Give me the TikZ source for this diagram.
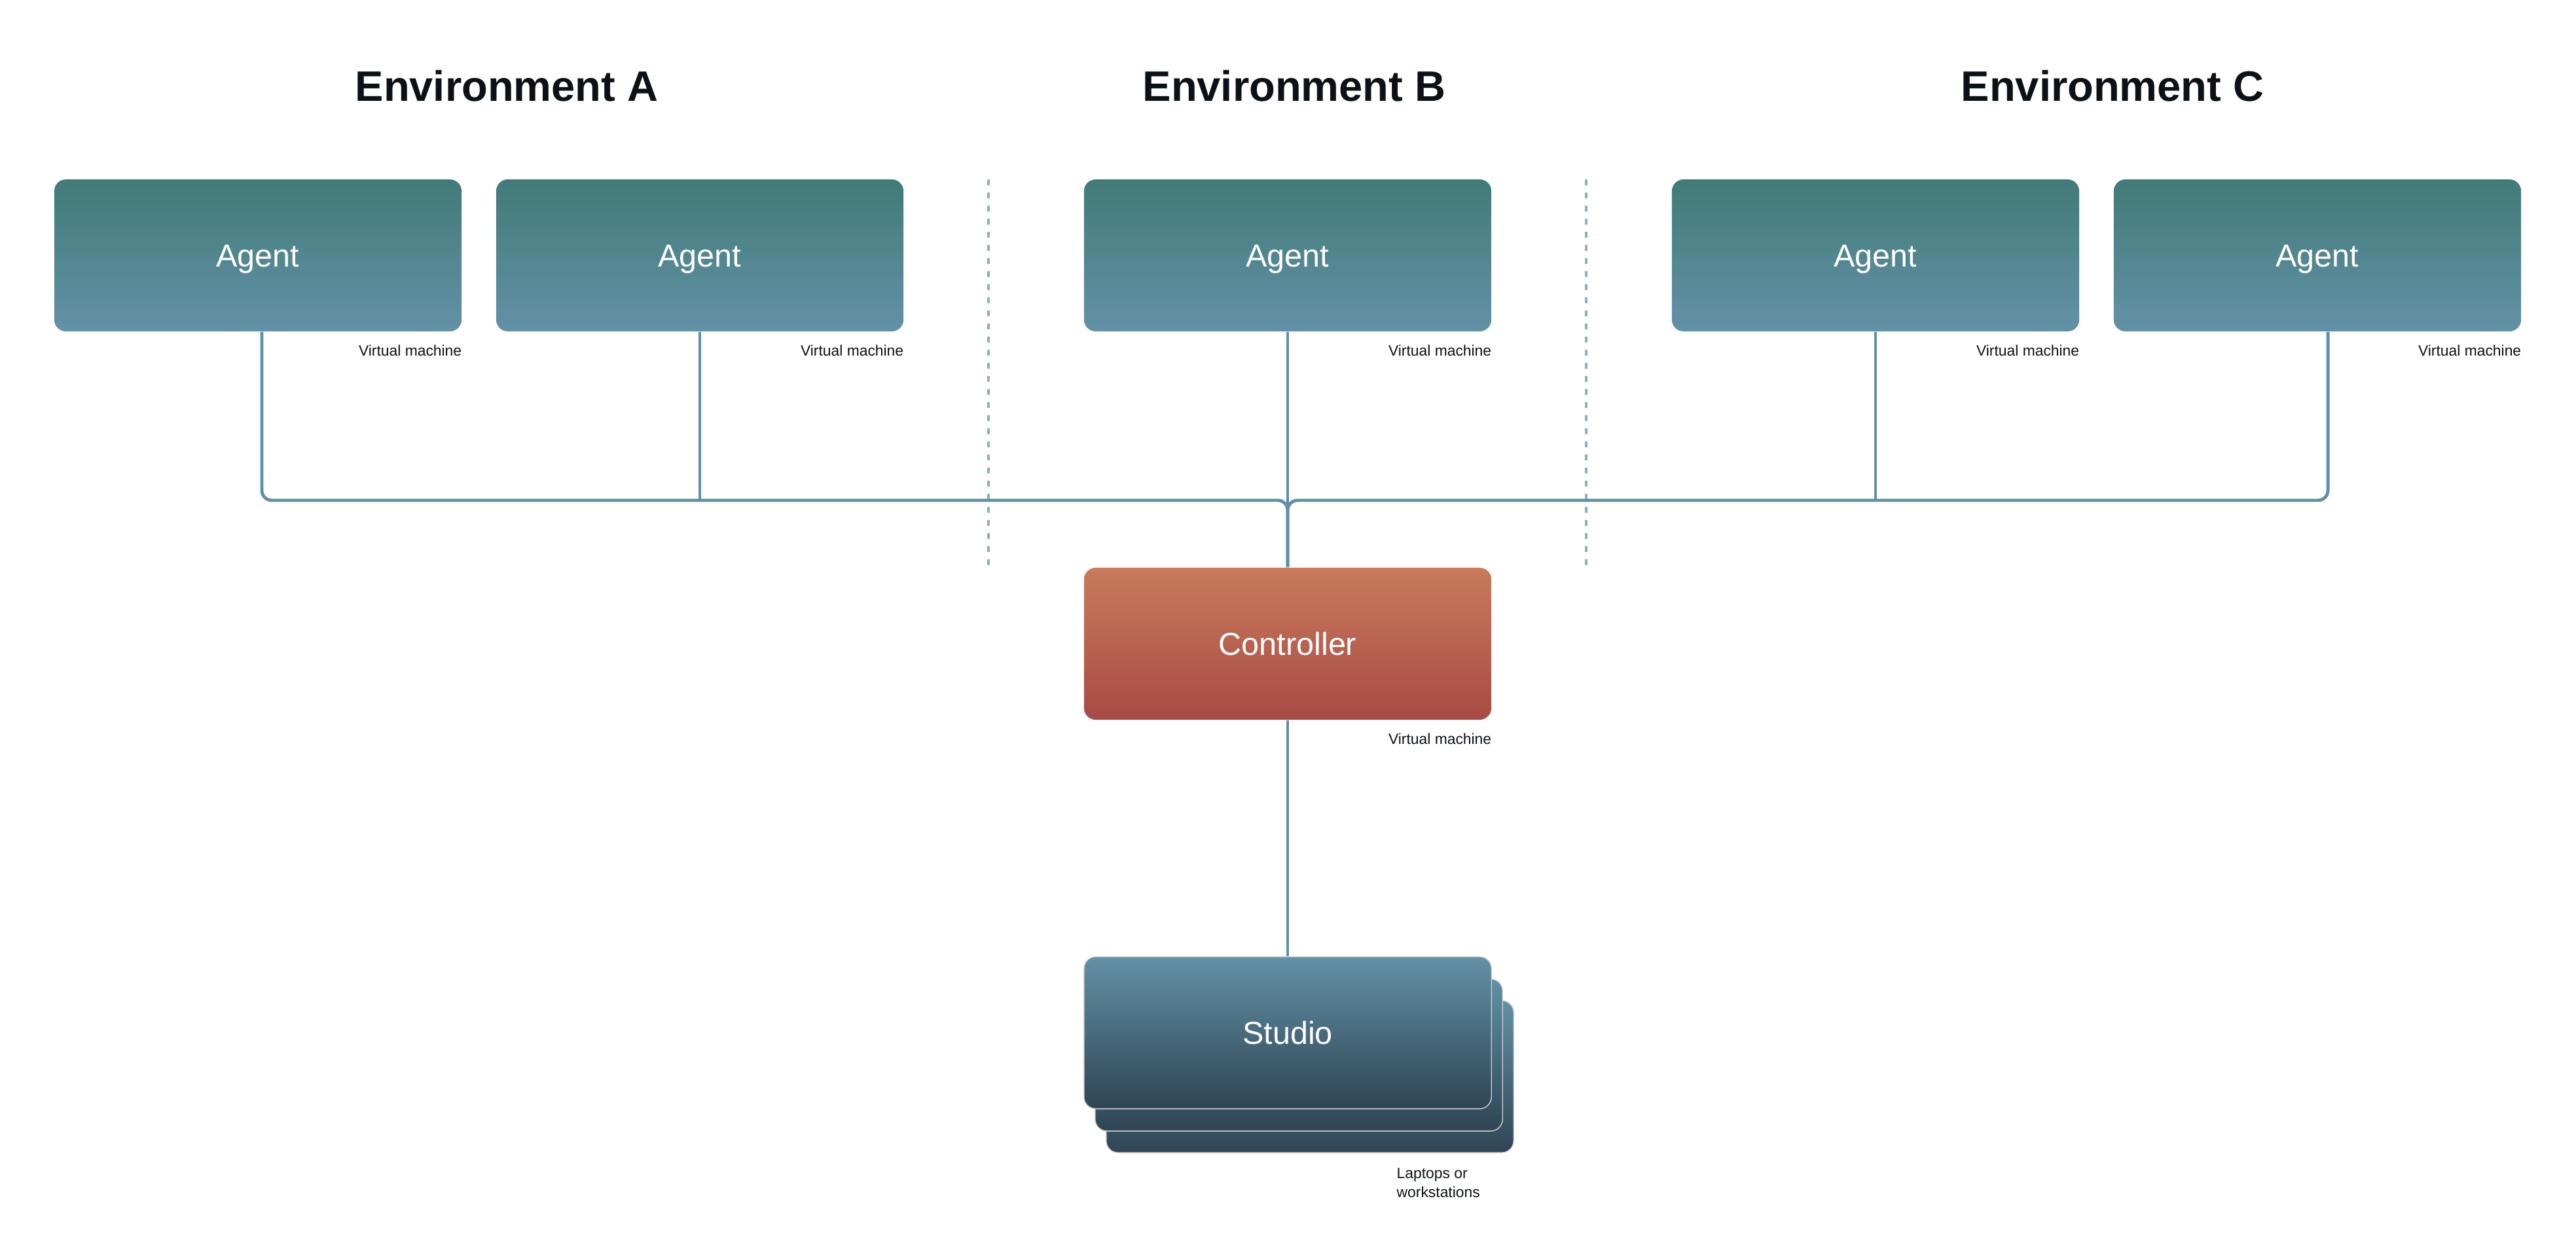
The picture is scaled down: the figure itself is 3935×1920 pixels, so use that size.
\documentclass[tikz,border=0pt]{standalone}
\usepackage{fontspec}
\setmainfont{Liberation Sans}
\usetikzlibrary{calc}
\definecolor{agenttop}{HTML}{417B78}
\definecolor{agentbot}{HTML}{6391A7}
\definecolor{ctrltop}{HTML}{C97B5B}
\definecolor{ctrlbot}{HTML}{A84A45}
\definecolor{studiotop}{HTML}{6291A5}
\definecolor{studiobot}{HTML}{2F4555}
\definecolor{linkblue}{HTML}{6090A8}
\definecolor{dashblue}{HTML}{82B2C9}
\definecolor{inkblack}{HTML}{0C1117}
\def\vmnote#1#2{\node[note, anchor=base east] at ($(#1.south east)+(0,37)$) {#2};}

\begin{document}
\begin{tikzpicture}[x=0.01cm, y=-0.01cm,
		box/.style={rounded corners=0.18cm, minimum width=6.22cm, minimum height=2.32cm, inner sep=0pt, text height=0.34cm, text depth=0pt, text=white, font=\fontsize{13.8}{16}\selectfont},
		agentbox/.style={box, top color=agenttop, bottom color=agentbot},
		ctrlbox/.style={box, top color=ctrltop, bottom color=ctrlbot},
		studiobox/.style={box, top color=studiotop, bottom color=studiobot, draw=black!18, line width=0.4pt},
		note/.style={inner sep=0pt, text=inkblack, font=\fontsize{6.5}{8}\selectfont},
		title/.style={inner sep=0pt, text=inkblack, font=\fontsize{18.5}{22}\selectfont\bfseries},
		link/.style={draw=linkblue, line width=1.4pt, rounded corners=0.15cm},
		divider/.style={draw=dashblue, line width=1.4pt, dash pattern=on 0.09cm off 0.11cm}]
		%%%%% START %%%%%
		
		\useasboundingbox (0, 0) rectangle (3935, 1920);
		
		\node[title, anchor=base] (envA) at (774, 154) {Environment A};
		\node[title, anchor=base] (envB) at (1977, 154) {Environment B};
		\node[title, anchor=base] (envC) at (3227, 154) {Environment C};
		
		\draw[divider] (1510, 274) -- (1510, 866);
		\draw[divider] (2423, 274) -- (2423, 866);
		
		\node[agentbox] (agentA1) at (394, 390) {Agent};
		\node[agentbox] (agentA2) at (1069, 390) {Agent};
		\node[agentbox] (agentB) at (1967, 390) {Agent};
		\node[agentbox] (agentC1) at (2865, 390) {Agent};
		\node[agentbox] (agentC2) at (3540, 390) {Agent};
		
		\node[ctrlbox] (ctrl) at (1967, 983) {Controller};
		
		\node[studiobox] (studio3) at (2001, 1644) {};
		\node[studiobox] (studio2) at (1984, 1611) {};
		\node[studiobox] (studio) at (1967, 1577) {Studio};
		
		\vmnote{agentA1}{Virtual machine}
		\vmnote{agentA2}{Virtual machine}
		\vmnote{agentB}{Virtual machine}
		\vmnote{agentC1}{Virtual machine}
		\vmnote{agentC2}{Virtual machine}
		\vmnote{ctrl}{Virtual machine}
		\node[note, anchor=base west, align=left] (laptops) at (2133, 1828) {Laptops or\\workstations};
		
		\coordinate (hub) at (1967, 764);
		\draw[link] ([xshift=0.06cm]agentA1.south) |- (hub) -- (ctrl.north);
		\draw[link] ([xshift=0.16cm]agentC2.south) |- (hub) -- (ctrl.north);
		\draw[link] (agentA2.south) -- (agentA2.south |- hub);
		\draw[link] (agentC1.south) -- (agentC1.south |- hub);
		\draw[link] (agentB.south) -- (ctrl.north);
		\draw[link] (ctrl.south) -- (studio.north);
		
		%%%%% END %%%%%
	\end{tikzpicture}
\end{document}
